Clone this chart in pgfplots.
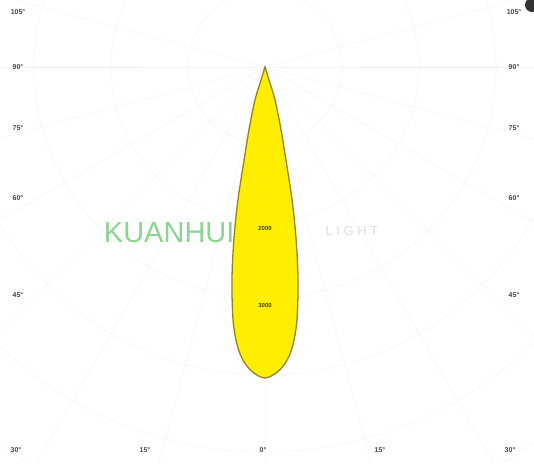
\documentclass[border=0pt]{standalone}
\usepackage{pgfplots}
\pgfplotsset{compat=1.18}
\usepackage{pgfplotstable}
\usepackage{fontspec}
\setmainfont{Liberation Sans}
\definecolor{beamfill}{RGB}{255,238,0}
\definecolor{beamedge}{RGB}{150,130,40}
\definecolor{wmgreen}{RGB}{140,212,145}
\definecolor{lbl}{RGB}{70,70,70}
% intensity distribution: angle (deg from nadir), intensity (cd)
\pgfplotstableread{
ang cd
-17.5 0
-17.0 177
-16.9 448
-14.3 844
-12.7 1234
-11.5 1766
-10.2 2286
-8.8 2805
-7.2 3312
-5.75 3623
-4.3 3818
-2.4 3961
0 4039
2.4 3961
4.3 3818
5.75 3623
7.2 3312
8.8 2805
10.2 2286
11.5 1766
12.7 1234
14.3 844
16.9 448
17.0 177
17.5 0
}\beam
\begin{document}
\begin{tikzpicture}
\begin{axis}[
  width=534pt, height=463pt, scale only axis,
  xmin=0, xmax=534, ymin=0, ymax=463,
  axis lines=none, clip=true,
]
\fill[white] (axis cs:0,0) rectangle (axis cs:534,463);
% faint grid: circles and rays around the centre (265,396)
\pgfplotsinvokeforeach{77,154,231,308,385,462}{
  \draw[gray!7, line width=0.6pt] (axis cs:265,396) circle[radius=#1pt];
}
\pgfplotsinvokeforeach{-105,-90,-75,-60,-45,-30,-15,0,15,30,45,60,75,90,105}{
  \draw[gray!7, line width=0.6pt] (axis cs:265,396) -- ++({-90+#1}:700pt);
}
\draw[gray!15, line width=0.8pt] (axis cs:30,396) -- (axis cs:140,396);
\draw[gray!15, line width=0.8pt] (axis cs:360,396) -- (axis cs:500,396);
% watermark
\node[anchor=east, text=wmgreen, font=\fontsize{29}{30}\selectfont] at (axis cs:238,230) {KUANHUI};
\node[anchor=west, text=gray!25, font=\fontsize{13}{15}\selectfont] at (axis cs:322,232) {L I G H T};
% corner mark
\fill[black!80] (axis cs:532,458) circle[radius=7pt];
% beam
\addplot[smooth, tension=0.55, fill=beamfill, draw=beamedge, line width=1.3pt]
  table[x expr={265+0.077*\thisrow{cd}*sin(\thisrow{ang})},
        y expr={396-0.077*\thisrow{cd}*cos(\thisrow{ang})}] {\beam} -- cycle;
% intensity labels
\node[text=lbl, font=\fontsize{6}{7}\selectfont\bfseries] at (axis cs:265,235) {2000};
\node[text=lbl, font=\fontsize{6}{7}\selectfont\bfseries] at (axis cs:265,158) {3000};
% angle labels
\node[text=lbl, font=\fontsize{7}{8}\selectfont\bfseries] at (axis cs:18,451) {105°};
\node[text=lbl, font=\fontsize{7}{8}\selectfont\bfseries] at (axis cs:18,396) {90°};
\node[text=lbl, font=\fontsize{7}{8}\selectfont\bfseries] at (axis cs:18,335) {75°};
\node[text=lbl, font=\fontsize{7}{8}\selectfont\bfseries] at (axis cs:18,265) {60°};
\node[text=lbl, font=\fontsize{7}{8}\selectfont\bfseries] at (axis cs:18,168) {45°};
\node[text=lbl, font=\fontsize{7}{8}\selectfont\bfseries] at (axis cs:514,451) {105°};
\node[text=lbl, font=\fontsize{7}{8}\selectfont\bfseries] at (axis cs:514,396) {90°};
\node[text=lbl, font=\fontsize{7}{8}\selectfont\bfseries] at (axis cs:514,335) {75°};
\node[text=lbl, font=\fontsize{7}{8}\selectfont\bfseries] at (axis cs:514,265) {60°};
\node[text=lbl, font=\fontsize{7}{8}\selectfont\bfseries] at (axis cs:514,168) {45°};
\node[text=lbl, font=\fontsize{7}{8}\selectfont\bfseries] at (axis cs:16,13) {30°};
\node[text=lbl, font=\fontsize{7}{8}\selectfont\bfseries] at (axis cs:145,13) {15°};
\node[text=lbl, font=\fontsize{7}{8}\selectfont\bfseries] at (axis cs:263,13) {0°};
\node[text=lbl, font=\fontsize{7}{8}\selectfont\bfseries] at (axis cs:380,13) {15°};
\node[text=lbl, font=\fontsize{7}{8}\selectfont\bfseries] at (axis cs:510,13) {30°};
\end{axis}
\end{tikzpicture}
\end{document}
